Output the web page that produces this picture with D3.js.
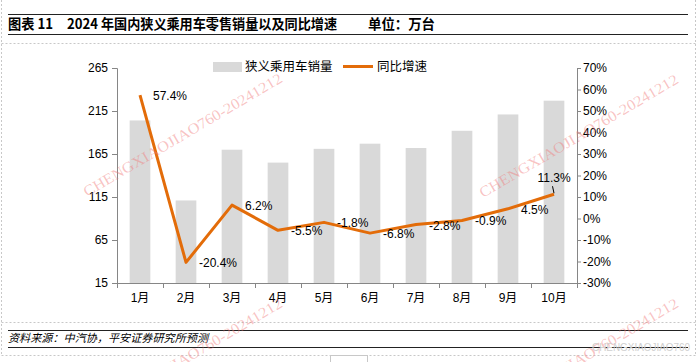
<!DOCTYPE html>
<html>
<head>
<meta charset="utf-8">
<script src="https://cdn.jsdelivr.net/npm/d3@7"></script>
<style>
  body { margin: 0; background: #fff; }
  svg { display: block; font-family: "Liberation Sans", Arial, "Noto Sans CJK SC", sans-serif; }
</style>
</head>
<body>
<svg id="chart" width="700" height="362"></svg>
<script>
// months on the x axis
var months = ["1月", "2月", "3月", "4月", "5月", "6月", "7月", "8月", "9月", "10月"];
// retail sales, 10k units
var sales = [204, 111, 170, 155, 171, 177, 172, 192, 211, 227];
// yoy growth, %
var growth = [57.4, -20.4, 6.2, -5.5, -1.8, -6.8, -2.8, -0.9, 4.5, 11.3];
var leftTicks = [15, 65, 115, 165, 215, 265];
var rightTicks = [-30, -20, -10, 0, 10, 20, 30, 40, 50, 60, 70];

var svg = d3.select("#chart");
var cjk = "'Noto Sans CJK SC', sans-serif";
var axisColor = "#868686";
var orange = "#E36C09";

var x0 = 117, x1 = 577, yTop = 68, yBot = 283;

var xScale = d3.scaleBand().domain(months).range([x0, x1]).padding(0);
var yLeft = d3.scaleLinear().domain([15, 265]).range([yBot, yTop]);
var yRight = d3.scaleLinear().domain([-30, 70]).range([yBot, yTop]);

// page frame: dashed guides
var dash = svg.append("g").attr("stroke", "#c8c8c8").attr("stroke-dasharray", "2,2").attr("stroke-width", 1);
dash.append("line").attr("x1", 1.5).attr("x2", 1.5).attr("y1", 0).attr("y2", 355);
dash.append("line").attr("x1", 695.5).attr("x2", 695.5).attr("y1", 0).attr("y2", 355);
[43.5, 322.5, 355.5].forEach(function (y) {
  dash.append("line").attr("x1", 1.5).attr("x2", 695.5).attr("y1", y).attr("y2", y);
});

// title block
svg.append("line").attr("x1", 8).attr("x2", 688).attr("y1", 14.5).attr("y2", 14.5).attr("stroke", "#222").attr("stroke-width", 1.2);
svg.append("line").attr("x1", 8).attr("x2", 688).attr("y1", 34.5).attr("y2", 34.5).attr("stroke", "#222").attr("stroke-width", 1.2);
svg.append("text").attr("x", 8).attr("y", 29).attr("font-family", cjk).attr("font-weight", "bold")
  .attr("font-size", "14px").attr("textLength", 45).attr("lengthAdjust", "spacingAndGlyphs").text("图表 11");
svg.append("text").attr("x", 67).attr("y", 29).attr("font-family", cjk).attr("font-weight", "bold")
  .attr("font-size", "14px").attr("textLength", 270).attr("lengthAdjust", "spacingAndGlyphs")
  .text("2024 年国内狭义乘用车零售销量以及同比增速");
svg.append("text").attr("x", 368).attr("y", 29).attr("font-family", cjk).attr("font-weight", "bold")
  .attr("font-size", "14px").attr("textLength", 67).attr("lengthAdjust", "spacingAndGlyphs").text("单位：万台");

// source block
svg.append("line").attr("x1", 8).attr("x2", 688).attr("y1", 330.5).attr("y2", 330.5).attr("stroke", "#222").attr("stroke-width", 1.2);
svg.append("line").attr("x1", 8).attr("x2", 688).attr("y1", 347.5).attr("y2", 347.5).attr("stroke", "#222").attr("stroke-width", 1.2);
svg.append("text").attr("x", 8).attr("y", 342).attr("font-family", cjk).attr("font-style", "italic")
  .attr("font-size", "11px").attr("textLength", 200).attr("lengthAdjust", "spacingAndGlyphs")
  .text("资料来源：中汽协，平安证券研究所预测");

// bars
var barW = xScale.bandwidth() * 0.45;
svg.append("g").selectAll("rect").data(sales).enter().append("rect")
  .attr("x", function (d, i) { return xScale(months[i]) + (xScale.bandwidth() - barW) / 2; })
  .attr("y", function (d) { return yLeft(d); })
  .attr("width", barW)
  .attr("height", function (d) { return yBot - yLeft(d); })
  .attr("fill", "#D9D9D9");

// axes
var gl = svg.append("g").attr("transform", "translate(" + x0 + ",0)")
  .call(d3.axisLeft(yLeft).tickValues(leftTicks).tickSize(5).tickPadding(4));
var gr = svg.append("g").attr("transform", "translate(" + x1 + ",0)")
  .call(d3.axisRight(yRight).tickValues(rightTicks).tickSize(4).tickPadding(2)
    .tickFormat(function (d) { return d + "%"; }));
[gl, gr].forEach(function (g) {
  g.select(".domain").attr("stroke", axisColor);
  g.selectAll(".tick line").attr("stroke", axisColor);
  g.selectAll(".tick text").attr("font-size", "12px").attr("fill", "#000")
    .attr("font-family", "'Liberation Sans', Arial, sans-serif");
});

svg.append("line").attr("x1", x0).attr("x2", x1).attr("y1", yBot + 0.5).attr("y2", yBot + 0.5).attr("stroke", axisColor);
var bounds = months.map(function (m) { return xScale(m); }).concat([x1]);
svg.append("g").selectAll("line").data(bounds).enter().append("line")
  .attr("x1", function (d) { return Math.round(d) + 0.5; })
  .attr("x2", function (d) { return Math.round(d) + 0.5; })
  .attr("y1", yBot).attr("y2", yBot + 5).attr("stroke", axisColor);
svg.append("g").selectAll("text").data(months).enter().append("text")
  .attr("x", function (d) { return xScale(d) + xScale.bandwidth() / 2; })
  .attr("y", 302).attr("text-anchor", "middle").attr("font-size", "12px")
  .attr("font-family", "'Liberation Sans', Arial, 'Noto Sans CJK SC', sans-serif")
  .text(function (d) { return d; });

// growth line
var line = d3.line()
  .x(function (d, i) { return xScale(months[i]) + xScale.bandwidth() / 2; })
  .y(function (d) { return yRight(d); });
svg.append("path").datum(growth).attr("d", line).attr("fill", "none")
  .attr("stroke", orange).attr("stroke-width", 3).attr("stroke-linejoin", "round");

// data labels
var last = growth.length - 1;
svg.append("g").selectAll("text").data(growth).enter().append("text")
  .attr("x", function (d, i) {
    var cx = xScale(months[i]) + xScale.bandwidth() / 2;
    return i === last ? cx : cx + 13;
  })
  .attr("y", function (d, i) { return i === last ? yRight(d) - 12 : yRight(d) + 5; })
  .attr("text-anchor", function (d, i) { return i === last ? "middle" : "start"; })
  .attr("font-size", "12px").attr("fill", "#000")
  .text(function (d) { return d.toFixed(1) + "%"; });
var lx = xScale(months[last]) + xScale.bandwidth() / 2;
svg.append("line").attr("x1", lx).attr("x2", lx - 1.5)
  .attr("y1", yRight(growth[last]) - 1).attr("y2", yRight(growth[last]) - 8)
  .attr("stroke", "#000").attr("stroke-width", 1);

// legend
svg.append("rect").attr("x", 213).attr("y", 62).attr("width", 29).attr("height", 10).attr("fill", "#D9D9D9");
svg.append("text").attr("x", 245).attr("y", 71).attr("font-family", cjk).attr("font-size", "12.5px").text("狭义乘用车销量");
svg.append("line").attr("x1", 343).attr("x2", 373).attr("y1", 66.5).attr("y2", 66.5).attr("stroke", orange).attr("stroke-width", 3);
svg.append("text").attr("x", 377).attr("y", 71).attr("font-family", cjk).attr("font-size", "12.5px").text("同比增速");

// watermarks
var marks = [[87, 197], [483, 198], [87, 422], [483, 422]];
svg.append("g").selectAll("text").data(marks).enter().append("text")
  .attr("transform", function (d) { return "translate(" + d[0] + "," + d[1] + ") rotate(-30.5)"; })
  .attr("font-family", "'Liberation Serif', serif").attr("font-size", "15px")
  .attr("textLength", 228).attr("lengthAdjust", "spacingAndGlyphs")
  .attr("fill", "#f07a7a").attr("fill-opacity", 0.45)
  .text("CHENGXIAOJIAO760-20241212");
svg.append("text").attr("x", 592).attr("y", 351).attr("font-size", "11px").attr("fill", "#d0d0d0")
  .attr("textLength", 98).attr("lengthAdjust", "spacingAndGlyphs").text("CHENGXIAOJIAO760");
svg.append("rect").attr("x", 330.5).attr("y", 355.5).attr("width", 37).attr("height", 12)
  .attr("fill", "#fff").attr("stroke", "#c8c8c8");
</script>
</body>
</html>
